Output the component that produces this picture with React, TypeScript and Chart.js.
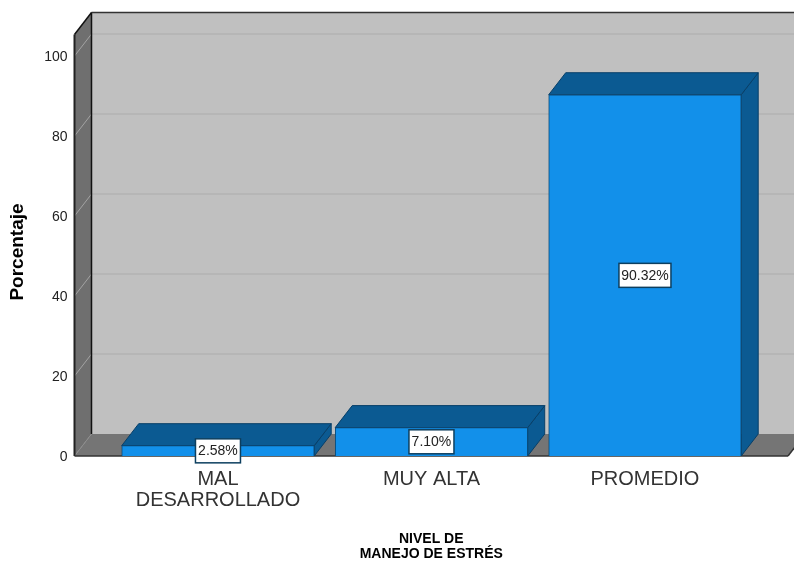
import React, { useEffect, useRef } from "react";
import { Chart, registerables } from "chart.js";

Chart.register(...registerables);

const categories: string[][] = [["MAL", "DESARROLLADO"], ["MUY ALTA"], ["PROMEDIO"]];
const categoryPositions = [0, 1, 2];
const percentValues = [2.58, 7.1, 90.32];
const percentLabels = ["2.58%", "7.10%", "90.32%"];
const yTicks = [0, 20, 40, 60, 80, 100];
const xTitle = ["NIVEL DE", "MANEJO DE ESTRÉS"];
const yTitle = "Porcentaje";

const DX = 17;
const DY = -22;
const FONT = "'Liberation Sans', Arial, sans-serif";

const poly = (ctx: CanvasRenderingContext2D, pts: number[][], fill: string | null, stroke: string | null, lw = 1) => {
  ctx.beginPath();
  pts.forEach((p, i) => (i ? ctx.lineTo(p[0], p[1]) : ctx.moveTo(p[0], p[1])));
  ctx.closePath();
  if (fill) {
    ctx.fillStyle = fill;
    ctx.fill();
  }
  if (stroke) {
    ctx.strokeStyle = stroke;
    ctx.lineWidth = lw;
    ctx.stroke();
  }
};

const line = (ctx: CanvasRenderingContext2D, x1: number, y1: number, x2: number, y2: number, color: string, lw = 1) => {
  ctx.beginPath();
  ctx.moveTo(x1, y1);
  ctx.lineTo(x2, y2);
  ctx.strokeStyle = color;
  ctx.lineWidth = lw;
  ctx.stroke();
};

const walls3d = {
  id: "walls3d",
  beforeDatasetsDraw(chart: any) {
    const { ctx, chartArea: a, width } = chart;
    const yS = chart.scales.y;
    const L = a.left;
    const T = a.top;
    const B = a.bottom;
    const R = a.right;
    ctx.save();
    // back wall
    ctx.fillStyle = "#c0c0c0";
    ctx.fillRect(L + DX, T + DY, width - L - DX, B - T);
    // floor
    poly(ctx, [[L, B], [L + DX, B + DY], [R + DX, B + DY], [R, B]], "#757575", null);
    // left wall
    poly(ctx, [[L, T], [L + DX, T + DY], [L + DX, B + DY], [L, B]], "#6f6f6f", null);
    // grid lines
    yTicks.filter((t) => t > 0).forEach((t) => {
      const y = yS.getPixelForValue(t);
      line(ctx, L, y, L + DX, y + DY, "#a3a3a3", 1);
      line(ctx, L + DX, y + DY, width, y + DY, "#b3b3b3", 1.5);
    });
    line(ctx, L, B, L + DX, B + DY, "#8c8c8c", 1);
    // frame
    line(ctx, L + DX, T + DY, L + DX, B + DY, "#111111", 1.5);
    line(ctx, L + DX, T + DY, width, T + DY, "#333333", 1.5);
    line(ctx, L, T, L + DX, T + DY, "#111111", 1.5);
    line(ctx, L, T, L, B, "#222222", 2);
    line(ctx, L, B, R, B, "#333333", 1.5);
    line(ctx, R, B, R + DX, B + DY, "#333333", 1.5);

    // bar depth faces
    const meta = chart.getDatasetMeta(0);
    meta.data.forEach((bar: any) => {
      const x0 = bar.x - bar.width / 2;
      const x1 = bar.x + bar.width / 2;
      const top = bar.y;
      const base = bar.base;
      poly(ctx, [[x1, top], [x1 + DX, top + DY], [x1 + DX, base + DY], [x1, base]], "#0b5a92", "#083f68");
      poly(ctx, [[x0, top], [x0 + DX, top + DY], [x1 + DX, top + DY], [x1, top]], "#0b5a92", "#083f68");
    });
    ctx.restore();
  },
  afterDatasetsDraw(chart: any) {
    const { ctx } = chart;
    const meta = chart.getDatasetMeta(0);
    ctx.save();
    ctx.font = `14px ${FONT}`;
    ctx.textAlign = "center";
    ctx.textBaseline = "middle";
    meta.data.forEach((bar: any, i: number) => {
      const text = percentLabels[i];
      const w = Math.round(ctx.measureText(text).width) + 5;
      const h = 24;
      const cx = bar.x;
      const cy = (bar.y + bar.base) / 2;
      ctx.fillStyle = "#ffffff";
      ctx.fillRect(cx - w / 2, cy - h / 2, w, h);
      ctx.strokeStyle = "#0d3f5f";
      ctx.lineWidth = 1.5;
      ctx.strokeRect(cx - w / 2, cy - h / 2, w, h);
      ctx.fillStyle = "#222222";
      ctx.fillText(text, cx, cy + 0.5);
    });
    ctx.restore();
    // rotated y axis title
    ctx.save();
    ctx.translate(18, 252);
    ctx.rotate(-Math.PI / 2);
    ctx.font = `bold 19px ${FONT}`;
    ctx.textAlign = "center";
    ctx.textBaseline = "middle";
    ctx.fillStyle = "#000000";
    ctx.fillText(yTitle, 0, 0);
    ctx.restore();
  },
};

export default function App() {
  const ref = useRef<HTMLCanvasElement>(null);
  useEffect(() => {
    document.body.style.margin = "0";
    const chart = new Chart(ref.current as HTMLCanvasElement, {
      type: "bar",
      data: {
        datasets: [
          {
            data: categoryPositions.map((x, i) => ({ x, y: percentValues[i] })),
            backgroundColor: "#1290ea",
            borderColor: "#0a4a78",
            borderWidth: 1,
            barThickness: 192.5,
          },
        ],
      },
      options: {
        animation: false,
        responsive: false,
        devicePixelRatio: 1,
        layout: { padding: { top: 34.5, right: 6, left: 0, bottom: 0 } },
        plugins: { legend: { display: false }, tooltip: { enabled: false } },
        scales: {
          x: {
            type: "linear",
            offset: false,
            min: -0.672,
            max: 2.67,
            grid: { display: false, drawTicks: false },
            border: { display: false },
            afterBuildTicks: (s: any) => {
              s.ticks = categoryPositions.map((value) => ({ value }));
            },
            afterFit: (s: any) => {
              s.height = 105;
            },
            ticks: {
              autoSkip: false,
              maxRotation: 0,
              padding: 13,
              color: "#333333",
              font: { family: FONT, size: 20, lineHeight: 1.05 },
              callback: (v: any) => categories[v as number],
            },
            title: {
              display: true,
              text: xTitle,
              color: "#000000",
              font: { family: FONT, size: 14, weight: "bold", lineHeight: 1.07 },
              padding: { top: 0, bottom: -1 },
            },
          },
          y: {
            min: 0,
            max: 105.375,
            grid: { display: false, drawTicks: false },
            border: { display: false },
            afterBuildTicks: (s: any) => {
              s.ticks = yTicks.map((value) => ({ value }));
            },
            afterFit: (s: any) => {
              s.width = 74.5;
            },
            ticks: {
              padding: 7,
              labelOffset: 1.5,
              color: "#222222",
              font: { family: FONT, size: 14 },
            },
          },
        },
      },
      plugins: [walls3d],
    } as any);
    return () => chart.destroy();
  }, []);
  return <canvas ref={ref} width={794} height={561} style={{ display: "block" }} />;
}
